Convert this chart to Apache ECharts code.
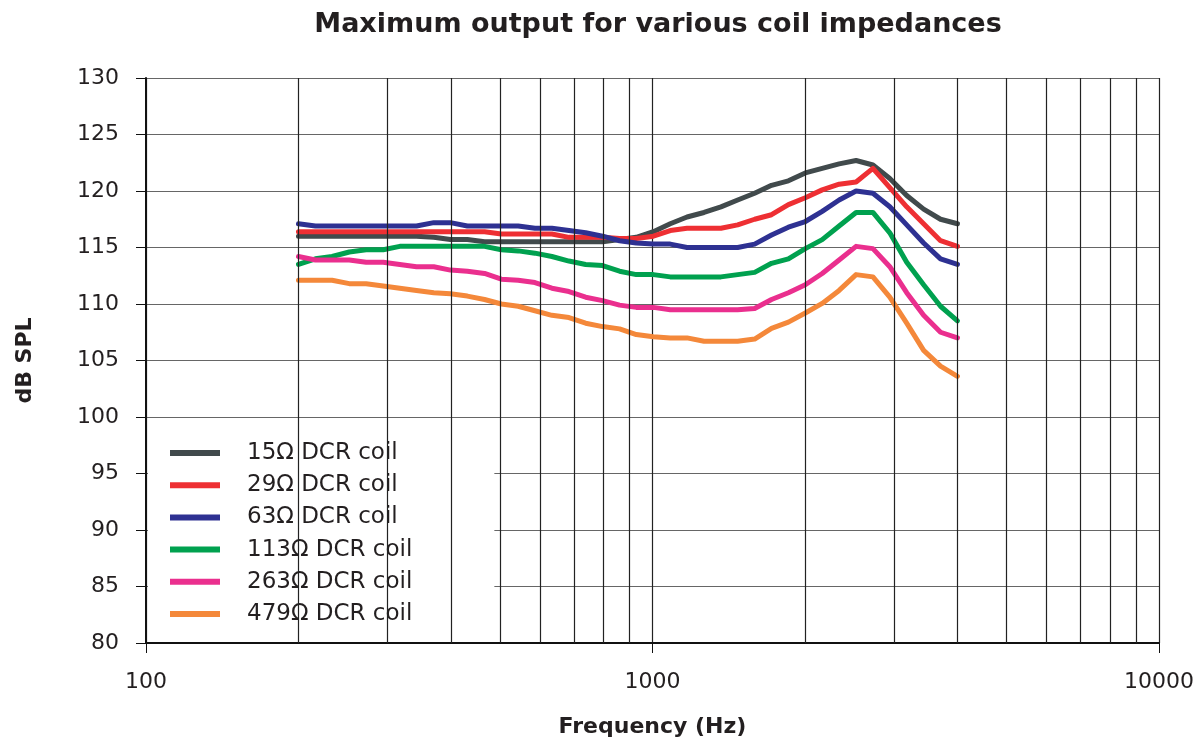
<!DOCTYPE html>
<html>
<head>
<meta charset="utf-8">
<script src="https://cdn.jsdelivr.net/npm/echarts@6/dist/echarts.min.js"></script>
<style>
  html, body { margin: 0; padding: 0; background: #fff; }
  #chart { width: 1202px; height: 740px; }
</style>
</head>
<body>
<div id="chart"></div>
<script>
// frequencies of the measured points (Hz)
const freqs = [200, 216, 233, 252, 272, 294, 317, 342, 370, 399, 431, 466, 503, 543, 586, 633, 684, 738, 797, 861,
  929, 1004, 1084, 1170, 1264, 1365, 1473, 1591, 1718, 1855, 2003, 2163, 2336, 2523, 2724, 2941, 3176, 3430, 3704, 4000];

// dB SPL per coil
const spl15 = [116.0, 116.0, 116.0, 116.0, 116.0, 116.0, 116.0, 116.0, 115.9, 115.7, 115.7, 115.5, 115.5, 115.5, 115.5, 115.5, 115.5, 115.5, 115.5, 115.7,
  115.9, 116.4, 117.1, 117.7, 118.1, 118.6, 119.2, 119.8, 120.5, 120.9, 121.6, 122.0, 122.4, 122.7, 122.3, 121.1, 119.6, 118.4, 117.5, 117.1];
const spl29 = [116.4, 116.4, 116.4, 116.4, 116.4, 116.4, 116.4, 116.4, 116.4, 116.4, 116.4, 116.4, 116.2, 116.2, 116.2, 116.2, 115.9, 115.9, 115.9, 115.8,
  115.8, 116.0, 116.5, 116.7, 116.7, 116.7, 117.0, 117.5, 117.9, 118.8, 119.4, 120.1, 120.6, 120.8, 122.0, 120.3, 118.6, 117.1, 115.6, 115.1];
const spl63 = [117.1, 116.9, 116.9, 116.9, 116.9, 116.9, 116.9, 116.9, 117.2, 117.2, 116.9, 116.9, 116.9, 116.9, 116.7, 116.7, 116.5, 116.3, 116.0, 115.6,
  115.4, 115.3, 115.3, 115.0, 115.0, 115.0, 115.0, 115.3, 116.1, 116.8, 117.3, 118.2, 119.2, 120.0, 119.8, 118.6, 117.0, 115.4, 114.0, 113.5];
const spl113 = [113.5, 114.0, 114.2, 114.6, 114.8, 114.8, 115.1, 115.1, 115.1, 115.1, 115.1, 115.1, 114.8, 114.7, 114.5, 114.2, 113.8, 113.5, 113.4, 112.9,
  112.6, 112.6, 112.4, 112.4, 112.4, 112.4, 112.6, 112.8, 113.6, 114.0, 114.9, 115.7, 116.9, 118.1, 118.1, 116.3, 113.7, 111.7, 109.8, 108.5];
const spl263 = [114.2, 113.9, 113.9, 113.9, 113.7, 113.7, 113.5, 113.3, 113.3, 113.0, 112.9, 112.7, 112.2, 112.1, 111.9, 111.4, 111.1, 110.6, 110.3, 109.9,
  109.7, 109.7, 109.5, 109.5, 109.5, 109.5, 109.5, 109.6, 110.4, 111.0, 111.7, 112.7, 113.9, 115.1, 114.9, 113.3, 111.0, 109.0, 107.5, 107.0];
const spl479 = [112.1, 112.1, 112.1, 111.8, 111.8, 111.6, 111.4, 111.2, 111.0, 110.9, 110.7, 110.4, 110.0, 109.8, 109.4, 109.0, 108.8, 108.3, 108.0, 107.8,
  107.3, 107.1, 107.0, 107.0, 106.7, 106.7, 106.7, 106.9, 107.85, 108.4, 109.2, 110.05, 111.2, 112.6, 112.4, 110.6, 108.3, 105.9, 104.5, 103.6];

const names = ['15Ω DCR coil', '29Ω DCR coil', '63Ω DCR coil', '113Ω DCR coil', '263Ω DCR coil', '479Ω DCR coil'];
const colors = ['#414a4c', '#ee2f33', '#2e3192', '#00a14f', '#ea2f8e', '#f4883a'];
const values = [spl15, spl29, spl63, spl113, spl263, spl479];

// in-between decade grid lines
const minorFreqs = [200, 300, 400, 500, 600, 700, 800, 900, 2000, 3000, 4000, 5000, 6000, 7000, 8000, 9000];

const FONT = 'DejaVu Sans';
const chart = echarts.init(document.getElementById('chart'));

const series = [{
  name: 'grid',
  type: 'line',
  data: [],
  z: 1,
  silent: true,
  markLine: {
    silent: true,
    symbol: ['none', 'none'],
    label: { show: false },
    animation: false,
    lineStyle: { color: '#222', width: 1.2, type: 'solid' },
    data: minorFreqs.map((f) => ({ xAxis: f }))
  }
}];
values.forEach((v, i) => {
  series.push({
    name: names[i],
    type: 'line',
    z: 3,
    showSymbol: false,
    color: colors[i],
    lineStyle: { color: colors[i], width: 5, cap: 'round', join: 'round' },
    data: freqs.map((f, k) => [f, v[k]])
  });
});

chart.setOption({
  animation: false,
  title: {
    text: 'Maximum output for various coil impedances',
    left: 653,
    top: 6,
    textAlign: 'center',
    textStyle: { fontFamily: FONT, fontSize: 27, fontWeight: 'bold', color: '#231f20' }
  },
  grid: { left: 146, right: 43, top: 78, bottom: 97, outerBoundsMode: 'none', containLabel: false },
  legend: {
    data: names,
    orient: 'vertical',
    left: 148,
    top: 420,
    padding: [21, 82, 8, 22],
    backgroundColor: '#fff',
    itemWidth: 50,
    itemHeight: 6,
    itemGap: 8.2,
    icon: 'rect',
    selectedMode: false,
    textStyle: { fontFamily: FONT, fontSize: 23, color: '#231f20', lineHeight: 24, padding: [0, 0, 0, 22] }
  },
  xAxis: {
    type: 'log',
    logBase: 10,
    min: 100,
    max: 10000,
    name: 'Frequency (Hz)',
    nameLocation: 'middle',
    nameGap: 73,
    nameTextStyle: { fontFamily: FONT, fontSize: 22, fontWeight: 'bold', color: '#231f20' },
    axisLine: { lineStyle: { color: '#111', width: 2 } },
    axisTick: { show: true, length: 10, lineStyle: { color: '#111', width: 1 } },
    axisLabel: { fontFamily: FONT, fontSize: 22, color: '#231f20', margin: 28, formatter: (v) => String(Math.round(v)) },
    splitLine: { show: true, lineStyle: { color: '#222', width: 1.2 } }
  },
  yAxis: {
    type: 'value',
    min: 80,
    max: 130,
    interval: 5,
    name: 'dB SPL',
    nameLocation: 'middle',
    nameGap: 110,
    nameTextStyle: { fontFamily: FONT, fontSize: 22, fontWeight: 'bold', color: '#231f20' },
    axisLine: { show: true, lineStyle: { color: '#111', width: 2 } },
    axisTick: { show: true, length: 10, lineStyle: { color: '#111', width: 1 } },
    axisLabel: { fontFamily: FONT, fontSize: 22, color: '#231f20', margin: 27 },
    splitLine: { show: true, lineStyle: { color: '#666', width: 1.2 } }
  },
  series: series
});
</script>
</body>
</html>
